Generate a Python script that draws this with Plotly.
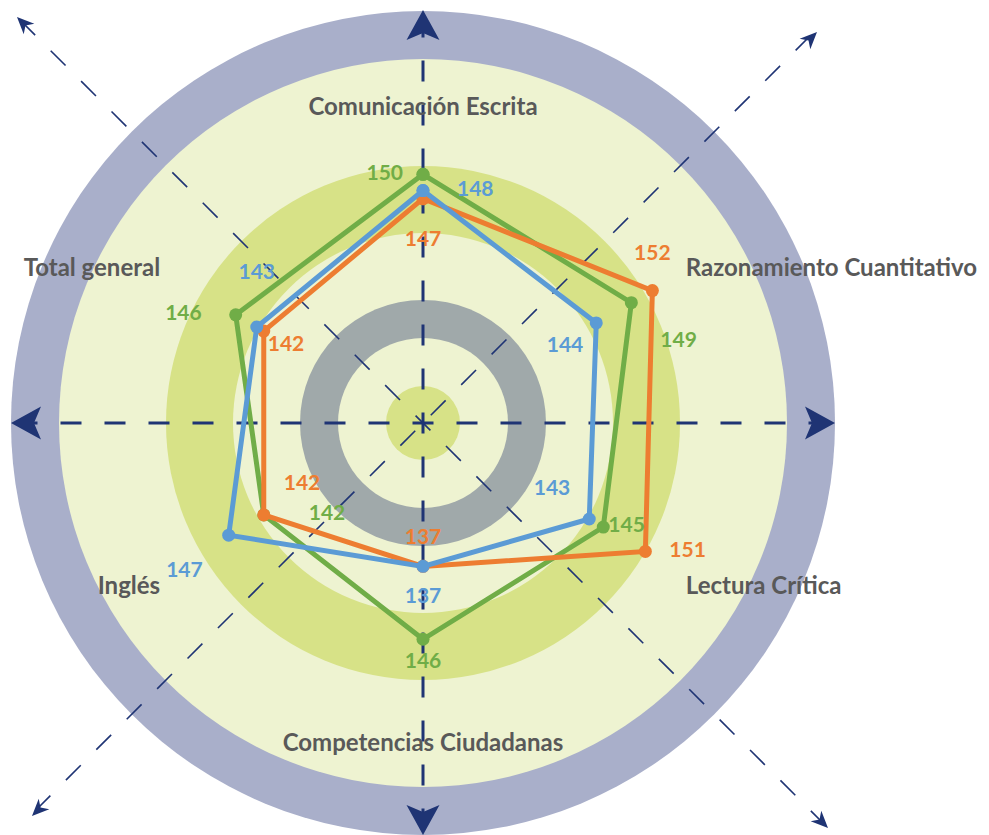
import plotly.graph_objects as go

# data
categories = ["Comunicación Escrita", "Razonamiento Cuantitativo", "Lectura Crítica",
              "Competencias Ciudadanas", "Inglés", "Total general"]
green_vals = [150, 149, 145, 146, 142, 146]
orange_vals = [147, 152, 151, 137, 142, 142]
blue_vals = [148, 144, 143, 137, 147, 143]

# label placement: side of the point and distance (px) from it
green_pos = ["middle left", "bottom right", "middle right", "bottom center", "middle right", "middle left"]
green_gap = [20, 29, 5, 13, 45, 34]
orange_pos = ["bottom center", "top center", "middle right", "top center", "top right", "bottom right"]
orange_gap = [32, 25, 24, 17, 20, 4]
blue_pos = ["middle right", "bottom left", "top left", "bottom center", "bottom left", "top center"]
blue_gap = [34, 13, 19, 21, 26, 43]

OFF = 8                 # body margin of the html page
W, H = 989 - OFF, 835 - OFF
CX, CY = 423, 423       # page pixels
R = 303                 # polar radius in px
PX_PER_UNIT = 8.1
R_MIN = 119.3
R_MAX = R_MIN + R / PX_PER_UNIT

NAVY = "#1F3474"
GREEN, ORANGE, BLUE = "#70AD47", "#ED7D31", "#5B9BD5"


def px(x, y):
    return (x - OFF) / W, 1 - (y - OFF) / H


def circle(r, color):
    x0, y0 = px(CX - r, CY + r)
    x1, y1 = px(CX + r, CY - r)
    return dict(type="circle", xref="paper", yref="paper", x0=x0, y0=y0, x1=x1, y1=y1,
                fillcolor=color, line=dict(width=0), layer="below")


def line(xa, ya, xb, yb, width, dash):
    x0, y0 = px(xa, ya)
    x1, y1 = px(xb, yb)
    return dict(type="line", xref="paper", yref="paper", x0=x0, y0=y0, x1=x1, y1=y1,
                line=dict(color=NAVY, width=width, dash=dash), layer="below")


def arrowhead(tx, ty, ux, uy, length, half, notch):
    bx, by = tx - length * ux, ty - length * uy
    nx, ny = tx - notch * ux, ty - notch * uy
    pts = [(tx, ty), (bx - half * uy, by + half * ux), (nx, ny), (bx + half * uy, by - half * ux)]
    path = "M " + " L ".join("%.5f %.5f" % px(x, y) for x, y in pts) + " Z"
    return dict(type="path", xref="paper", yref="paper", path=path,
                fillcolor=NAVY, line=dict(width=0), layer="below")


shapes = [
    circle(412, "#A9AFCA"),
    circle(364, "#EEF3D1"),
    circle(257, "#D7E287"),
    circle(190, "#EEF3D1"),
    circle(123, "#A0A9AA"),
    circle(85, "#EEF3D1"),
    circle(37, "#D7E287"),
]

# main axes
shapes.append(line(16.5, CY, 830, CY, 3, "21px,23px"))
shapes.append(line(CX, 16.5, CX, 830, 3, "21px,23px"))
# diagonals
shapes.append(line(20.3, 20.3, 823, 823, 1.6, "21px,22px"))
shapes.append(line(810.5, 35.5, 37, 809, 1.6, "21px,22px"))

shapes.append(arrowhead(CX, 10, 0, -1, 30, 16.5, 23))
shapes.append(arrowhead(CX, 835, 0, 1, 30, 16.5, 23))
shapes.append(arrowhead(11, CY, -1, 0, 30, 16.5, 23))
shapes.append(arrowhead(835, CY, 1, 0, 30, 16.5, 23))
d = 0.7071
shapes.append(arrowhead(17, 17, -d, -d, 17, 7.5, 12))
shapes.append(arrowhead(828, 828, d, d, 17, 7.5, 12))
shapes.append(arrowhead(817, 32, d, -d, 17, 7.5, 12))
shapes.append(arrowhead(32, 816, -d, d, 17, 7.5, 12))

fig = go.Figure()

series = [(green_vals, GREEN, green_pos, green_gap, "Verde"),
          (orange_vals, ORANGE, orange_pos, orange_gap, "Naranja"),
          (blue_vals, BLUE, blue_pos, blue_gap, "Azul")]

for vals, color, pos, gap, name in series:
    fig.add_trace(go.Scatterpolar(
        r=vals + vals[:1], theta=categories + categories[:1], mode="lines+markers",
        line=dict(color=color, width=5), marker=dict(color=color, size=13),
        name=name, hoverinfo="skip"))

# value labels; an invisible marker sets how far the text sits from the point
for vals, color, pos, gap, name in series:
    fig.add_trace(go.Scatterpolar(
        r=vals, theta=categories, mode="markers+text", text=[str(v) for v in vals],
        marker=dict(size=[1.6 * (g - 1) for g in gap], opacity=0),
        textposition=pos, textfont=dict(family="Lato", size=21, color=color, weight="bold"),
        hoverinfo="skip"))

dx0, dy0 = px(CX - R, CY + R)
dx1, dy1 = px(CX + R, CY - R)

fig.update_layout(
    width=W, height=H,
    margin=dict(l=0, r=0, t=0, b=0),
    paper_bgcolor="white",
    showlegend=False,
    shapes=shapes,
    polar=dict(
        domain=dict(x=[dx0, dx1], y=[dy0, dy1]),
        bgcolor="rgba(0,0,0,0)",
        radialaxis=dict(range=[R_MIN, R_MAX], visible=False),
        angularaxis=dict(rotation=90, direction="clockwise", showgrid=False, showline=False,
                         ticks="", tickfont=dict(family="Lato", size=24, color="#595959", weight="bold")),
    ),
)

fig.write_html("out.html")
